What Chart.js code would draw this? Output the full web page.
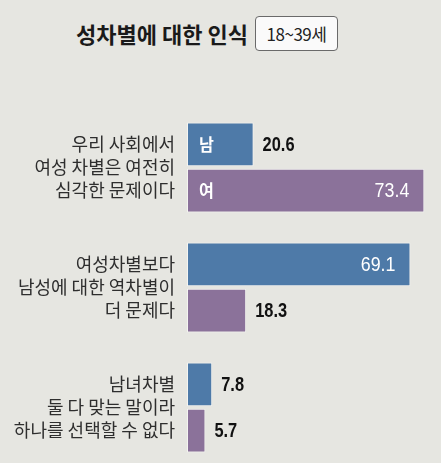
<!DOCTYPE html>
<html>
<head>
<meta charset="utf-8">
<script src="https://cdn.jsdelivr.net/npm/chart.js@4/dist/chart.umd.min.js"></script>
<style>
  html, body { margin: 0; padding: 0; background: #e6e6e1; overflow: hidden; }
  #wrap { position: relative; width: 441px; height: 463px; }
  #title {
    position: absolute; left: 76px; top: 19px;
    font: bold 22px "Noto Sans CJK KR", sans-serif; color: #1a1a1a;
    line-height: 28px; white-space: nowrap;
  }
  #age {
    position: absolute; left: 255px; top: 16px; width: 81px; height: 33px;
    border: 1px solid #6a6a6a; border-radius: 4px; background: #fafafa;
    font: 17px "Noto Sans CJK KR", sans-serif; color: #222;
    text-align: center; line-height: 33px; letter-spacing: -0.5px;
  }
  #chart { position: absolute; left: 0; top: 0; }
</style>
</head>
<body>
<div id="wrap">
  <div id="title">성차별에 대한 인식</div>
  <div id="age">18~39세</div>
  <canvas id="chart" width="441" height="475"></canvas>
</div>
<script>
// ---- data ----
const categories = [
    ['우리 사회에서', '여성 차별은 여전히', '심각한 문제이다'],
    ['여성차별보다', '남성에 대한 역차별이', '더 문제다'],
    ['남녀차별', '둘 다 맞는 말이라', '하나를 선택할 수 없다']
];
const seriesNames = ['남', '여'];
const maleValues = [20.6, 69.1, 7.8];
const femaleValues = [73.4, 18.3, 5.7];

const BLUE = '#4e7aa8';
const PURPLE = '#8b729a';

// text squeezed horizontally to mimic the narrow newspaper font
function narrowText(ctx, text, x, y, align, sx) {
    ctx.save();
    ctx.translate(x, y);
    ctx.scale(sx, 1);
    ctx.textAlign = align;
    ctx.fillText(text, 0, 0);
    ctx.restore();
}

// draw category text, value labels and series names
const labelPlugin = {
    id: 'labels',
    afterDatasetsDraw(chart) {
        const ctx = chart.ctx;
        const yScale = chart.scales.y;
        ctx.save();
        ctx.textBaseline = 'middle';

        // category labels (multi-line, right aligned)
        ctx.font = '18px "Noto Sans CJK KR", sans-serif';
        ctx.fillStyle = '#2e2e2e';
        categories.forEach((lines, i) => {
            const cy = yScale.getPixelForValue(i);
            lines.forEach((line, j) => {
                narrowText(ctx, line, 175, cy + (j - (lines.length - 1) / 2) * 23, 'right', 1);
            });
        });

        chart.data.datasets.forEach((ds, di) => {
            const meta = chart.getDatasetMeta(di);
            meta.data.forEach((bar, i) => {
                const v = ds.data[i];
                if (v > 40) {
                    ctx.font = '21px "Liberation Sans", sans-serif';
                    ctx.fillStyle = '#ffffff';
                    narrowText(ctx, v.toFixed(1), bar.x - 15, bar.y + 1, 'right', 0.85);
                } else {
                    ctx.font = 'bold 20px "Liberation Sans", sans-serif';
                    ctx.fillStyle = '#111111';
                    narrowText(ctx, v.toFixed(1), bar.x + 9, bar.y + 1, 'left', 0.82);
                }
                // series name only inside the first group
                if (i === 0) {
                    ctx.font = 'bold 17px "Noto Sans CJK KR", sans-serif';
                    ctx.fillStyle = '#ffffff';
                    narrowText(ctx, ds.label, bar.base + 12, bar.y, 'left', 0.95);
                }
            });
        });
        ctx.restore();
    }
};

new Chart(document.getElementById('chart'), {
    type: 'bar',
    data: {
        labels: categories,
        datasets: [
            { label: seriesNames[0], data: maleValues, backgroundColor: BLUE },
            { label: seriesNames[1], data: femaleValues, backgroundColor: PURPLE }
        ]
    },
    options: {
        indexAxis: 'y',
        responsive: false,
        animation: false,
        events: [],
        layout: { padding: { left: 187, right: 5, top: 107.5, bottom: 7.5 } },
        datasets: {
            bar: {
                categoryPercentage: 0.77,
                barPercentage: 0.95,
                borderWidth: 1,
                borderColor: 'rgba(255,255,255,0.55)',
                borderSkipped: false
            }
        },
        scales: {
            x: { display: false, min: 0, max: 77 },
            y: { display: false }
        },
        plugins: { legend: { display: false }, tooltip: { enabled: false } }
    },
    plugins: [labelPlugin]
});
</script>
</body>
</html>
